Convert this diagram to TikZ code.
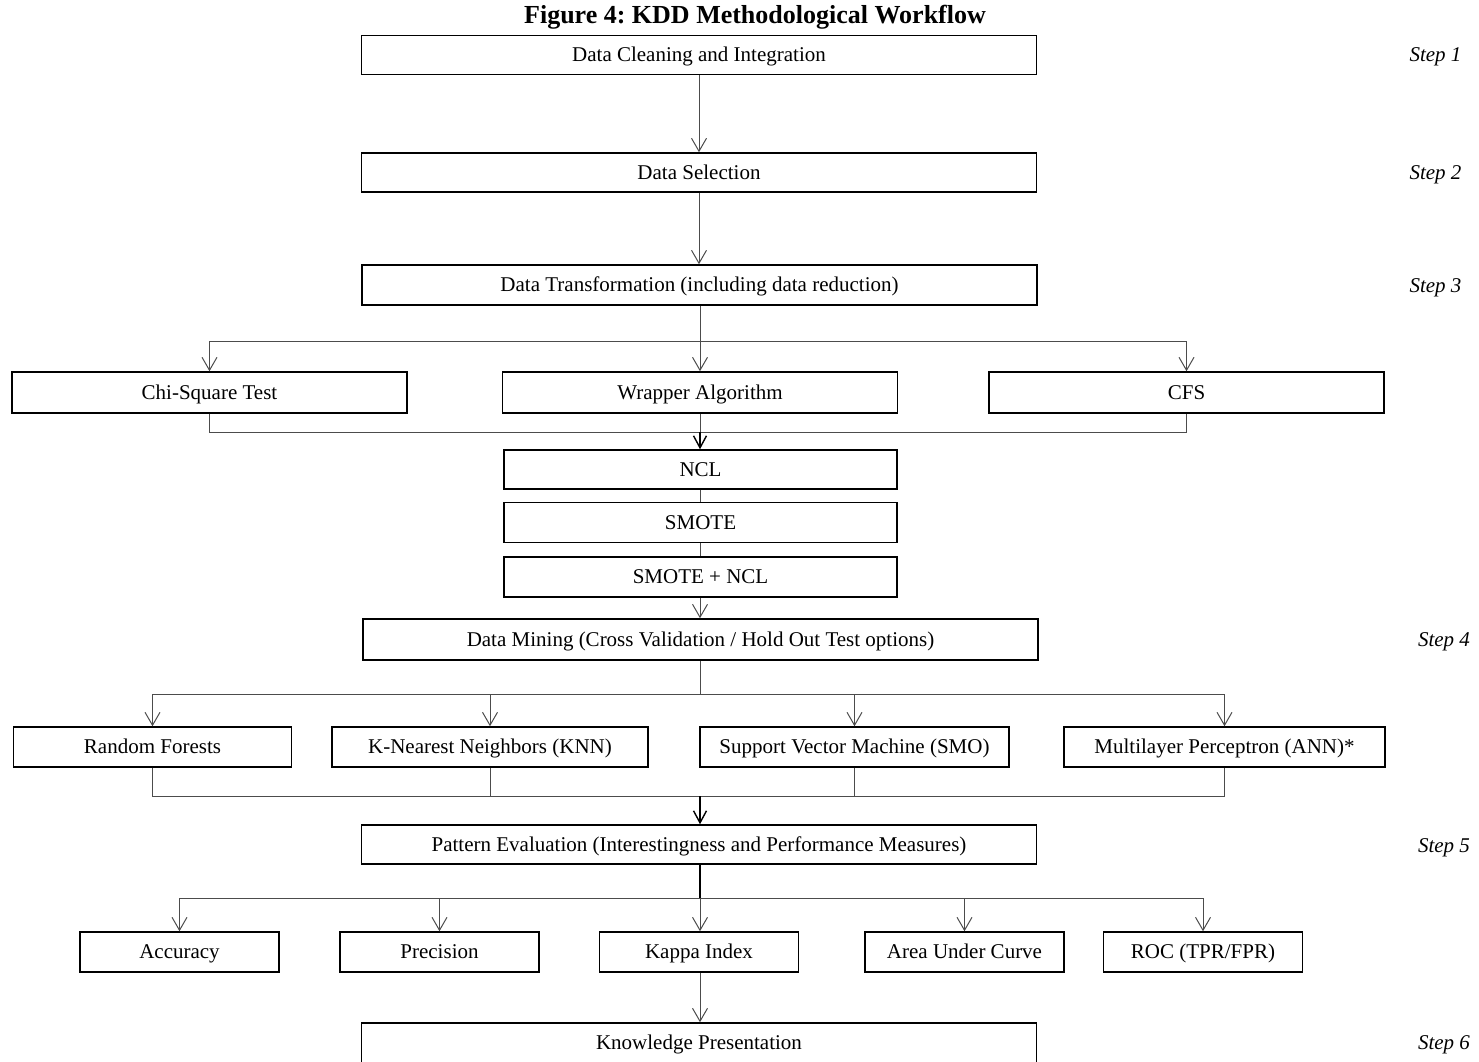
\documentclass[tikz,border=0pt]{standalone}
\usepackage{fontspec}
\setmainfont{Liberation Serif}
\usetikzlibrary{arrows.meta}
\definecolor{conngray}{gray}{0.3}
\frenchspacing
\begin{document}
\begin{tikzpicture}[x=1pt,y=-1pt,
  box/.style={draw=black, line width=1.5pt, inner sep=0pt, minimum height=40pt,
    font=\fontsize{21}{24}\selectfont, text height=16pt, text depth=3pt},
  conn/.style={draw=conngray, line width=1pt},
  arr/.style={conn, -{Straight Barb[length=13pt,width=15pt]}},
  mergearr/.style={draw=black, line width=1.4pt, -{Straight Barb[length=12pt,width=13pt]}},
  steplabel/.style={font=\fontsize{21}{24}\selectfont\itshape},
]
\clip (0,0) rectangle (1479,1061);

% title
\node[font=\fontsize{26}{30}\selectfont\bfseries] (title) at (755,17) {Figure 4: KDD Methodological Workflow};

% main column
\node[box, minimum width=675pt, minimum height=39pt] (clean) at (699,55) {Data Cleaning and Integration};
\node[box, minimum width=675pt, minimum height=39pt] (select) at (699,172.5) {Data Selection};
\node[box, minimum width=675pt] (trans) at (699.5,285) {Data Transformation (including data reduction)};

% feature selection
\node[box, minimum width=395pt, minimum height=41pt] (chi) at (209.5,392.5) {Chi-Square Test};
\node[box, minimum width=395pt, minimum height=41pt] (wrap) at (700,392.5) {Wrapper Algorithm};
\node[box, minimum width=395pt, minimum height=41pt] (cfs) at (1186.5,392.5) {CFS};

% resampling
\node[box, minimum width=393pt, minimum height=39pt] (ncl) at (700.5,469.5) {NCL};
\node[box, minimum width=393pt] (smote) at (700.5,522.5) {SMOTE};
\node[box, minimum width=393pt] (sncl) at (700.5,577) {SMOTE + NCL};

\node[box, minimum width=675pt, minimum height=41pt] (mine) at (700.5,639.5) {Data Mining (Cross Validation / Hold Out Test options)};

% classifiers
\node[box, minimum width=278pt] (rf) at (152.5,747) {Random Forests};
\node[box, minimum width=316pt] (knn) at (490,747) {K-Nearest Neighbors (KNN)};
\node[box, minimum width=309pt] (svm) at (854.5,747) {Support Vector Machine (SMO)};
\node[box, minimum width=321pt] (mlp) at (1224.5,747) {Multilayer Perceptron (ANN)*};

\node[box, minimum width=675pt, minimum height=39pt] (pat) at (699,844.5) {Pattern Evaluation (Interestingness and Performance Measures)};

% measures
\node[box, minimum width=199pt] (acc) at (179.5,952) {Accuracy};
\node[box, minimum width=199pt] (prec) at (439.5,952) {Precision};
\node[box, minimum width=199pt] (kap) at (699,952) {Kappa Index};
\node[box, minimum width=199pt] (auc) at (964.5,952) {Area Under Curve};
\node[box, minimum width=199pt] (roc) at (1203,952) {ROC (TPR/FPR)};

\node[box, minimum width=675pt] (know) at (699,1043) {Knowledge Presentation};

% step labels
\node[steplabel] (st1) at (1435.5,57) {Step 1};
\node[steplabel] (st2) at (1435.5,175) {Step 2};
\node[steplabel] (st3) at (1435.5,288) {Step 3};
\node[steplabel] (st4) at (1444,642) {Step 4};
\node[steplabel] (st5) at (1444,848) {Step 5};
\node[steplabel] (st6) at (1444,1045) {Step 6};

% connectors
\draw[arr] (clean) -- (select);
\draw[arr] (select.south) -- (select.south |- trans.north);

\coordinate (s1) at (700,341);
\draw[conn] (trans.south -| s1) -- (s1);
\draw[conn] (chi.north |- s1) -- (cfs.north |- s1);
\draw[arr] (chi.north |- s1) -- (chi.north);
\draw[arr] (s1) -- (wrap.north);
\draw[arr] (cfs.north |- s1) -- (cfs.north);

\coordinate (m1) at (700,432);
\draw[conn] (chi.south) -- (chi.south |- m1) -- (cfs.south |- m1) -- (cfs.south);
\draw[conn] (wrap.south) -- (m1);
\draw[mergearr] (m1) -- (m1 |- ncl.north);

\draw[conn] (ncl.south -| m1) -- (smote.north -| m1);
\draw[conn] (smote.south -| m1) -- (sncl.north -| m1);
\draw[arr] (sncl.south -| m1) -- (mine.north -| m1);

\coordinate (s2) at (700,694);
\draw[conn] (mine.south -| s2) -- (s2);
\draw[conn] (rf.north |- s2) -- (mlp.north |- s2);
\draw[arr] (rf.north |- s2) -- (rf.north);
\draw[arr] (knn.north |- s2) -- (knn.north);
\draw[arr] (svm.north |- s2) -- (svm.north);
\draw[arr] (mlp.north |- s2) -- (mlp.north);

\coordinate (m2) at (700,796);
\draw[conn] (rf.south) -- (rf.south |- m2) -- (mlp.south |- m2) -- (mlp.south);
\draw[conn] (knn.south) -- (knn.south |- m2);
\draw[conn] (svm.south) -- (svm.south |- m2);
\draw[mergearr] (m2) -- (m2 |- pat.north);

\coordinate (s3) at (700,898);
\draw[draw=black, line width=1.3pt] (pat.south -| s3) -- (s3);
\draw[conn] (acc.north |- s3) -- (roc.north |- s3);
\draw[arr] (acc.north |- s3) -- (acc.north);
\draw[arr] (prec.north |- s3) -- (prec.north);
\draw[arr] (s3) -- (s3 |- kap.north);
\draw[arr] (auc.north |- s3) -- (auc.north);
\draw[arr] (roc.north |- s3) -- (roc.north);

\draw[arr] (kap.south -| s3) -- (s3 |- know.north);
\end{tikzpicture}
\end{document}
